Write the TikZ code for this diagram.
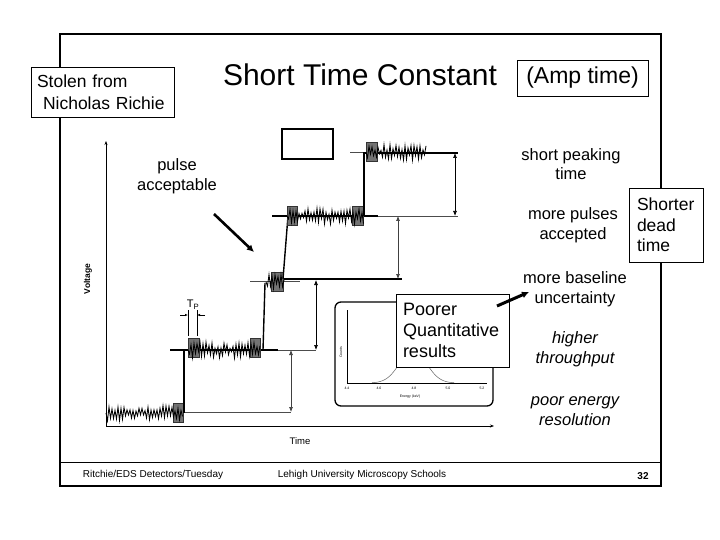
\documentclass[tikz,border=0pt]{standalone}
\usepackage{fontspec}
\setmainfont{Liberation Sans}
\usetikzlibrary{arrows.meta}
\newcommand{\noisy}[4]{%
  \pgfmathsetseed{#4}%
  \pgfmathtruncatemacro{\nsteps}{(#2-#1)/1.5}%
  \draw[noiseline] ({#1},{#3}) \foreach \k in {1,...,\nsteps} { -- ({#1+1.5*\k},{#3+(2*mod(\k,2)-1)*(1.5+6.5*rnd)}) };
}
\newcommand{\gbox}[3]{%
  \draw[greybox] ({#1},{#3-10}) rectangle ({#2},{#3+9});
}
\begin{document}
\begin{tikzpicture}[x=1pt,y=-1pt,
  every node/.style={inner sep=0pt},
  framestyle/.style={line width=1.5pt},
  labelbox/.style={draw, fill=white, line width=0.8pt, align=left},
  rtext/.style={align=center, font=\fontsize{16.5}{19.5}\selectfont},
  ritext/.style={align=center, font=\fontsize{16.5}{19.5}\selectfont\itshape},
  noiseline/.style={line width=0.85pt, line join=miter},
  greybox/.style={fill=black!55, draw=black!80, line width=0.6pt},
  levelthick/.style={line width=1.6pt},
  levelthin/.style={line width=0.6pt, black!70},
  riseline/.style={line width=1.4pt},
  dimarrow/.style={line width=0.7pt, {Latex[length=5pt,width=4pt]}-{Latex[length=5pt,width=4pt]}},
  bigarrow/.style={line width=2.6pt, -{Latex[length=7pt,width=7pt]}},
  footer/.style={font=\fontsize{10}{12}\selectfont},
  tiny/.style={font=\fontsize{3.5}{4}\selectfont}
]
\useasboundingbox (0,0) rectangle (720,540);
\fill[white] (0,0) rectangle (720,540);

% slide frame and footer
\draw[framestyle] (60,34) rectangle (661,486);
\coordinate (fl) at (60,462);
\coordinate (fr) at (661,462);
\draw[line width=0.9pt] (fl) -- (fr);
\node[footer] (f1) at (153,475) {Ritchie/EDS Detectors/Tuesday};
\node[footer] (f2) at (362,475) {Lehigh University Microscopy Schools};
\node[footer, font=\fontsize{10}{12}\selectfont\bfseries] (f3) at (643,476) {32};

% title and boxes
\node[font=\fontsize{30}{36}\selectfont] (title) at (360,75) {Short Time Constant};
\node[labelbox, text width=131pt, inner xsep=6pt, minimum height=50pt, font=\fontsize{17.5}{22}\selectfont] (stolen) at (102.5,92) {Stolen from\\\hspace*{6pt}Nicholas Richie};
\node[draw, fill=white, line width=0.8pt, minimum width=131pt, minimum height=36pt, font=\fontsize{23}{27}\selectfont] (amp) at (582.5,78) {(Amp time)};
\node[labelbox, text width=58pt, inner xsep=8pt, minimum height=74pt, font=\fontsize{17.5}{20.5}\selectfont] (dead) at (666,225) {Shorter\\dead\\time};

% right column
\node[rtext] (t1) at (571,164) {short peaking\\time};
\node[rtext] (t2) at (573,225) {more pulses\\accepted};
\node[rtext] (t3) at (575,289) {more baseline\\uncertainty};
\node[ritext] (t4) at (575,349) {higher\\throughput};
\node[ritext] (t5) at (575,411) {poor energy\\resolution};

% pulse acceptable
\node[rtext] (pa) at (177,176) {pulse\\acceptable};
\coordinate (pa1) at (214,214);
\coordinate (pa2) at (254,252);
\draw[bigarrow] (pa1) -- (pa2);

% empty rectangle
\draw[line width=1.3pt] (282,129) rectangle (333,159);

% axes
\coordinate (O) at (106,426);
\coordinate (ytop) at (106,141);
\coordinate (xend) at (494,426);
\draw[line width=0.9pt, -{Stealth[length=4pt,width=3pt]}] (O) -- (ytop);
\draw[line width=0.9pt, -{Stealth[length=4pt,width=3pt]}] (O) -- (xend);
\node[rotate=90, font=\fontsize{8.5}{10}\selectfont\bfseries] (vlab) at (88,279) {Voltage};
\node[font=\fontsize{9.5}{11}\selectfont] (tlab) at (300,441) {Time};

% level 0
\draw[levelthin] (183,412) -- (291,412);
\gbox{173}{183}{413}
\noisy{106}{183}{413}{11}
\draw[riseline] (184,413) -- (184,350);

% level 1
\draw[levelthick] (170,350) -- (278,350);
\draw[levelthin] (278,350) -- (316,350);
\gbox{188}{199}{348}
\gbox{250}{260}{348}
\noisy{188}{261}{350}{23}
\draw[riseline] (263,350) -- (265,283);

% level 2
\draw[levelthin] (250,281) -- (300,281);
\draw[levelthick] (283,279) -- (402,279);
\gbox{271}{283}{282}
\noisy{266}{284}{282}{37}
\draw[riseline] (283,279) -- (288,216);

% level 3
\draw[levelthick] (272,216) -- (378,216);
\draw[levelthin] (378,216) -- (458,216);
\gbox{287}{297}{216}
\gbox{352}{363}{216}
\noisy{287}{364}{216}{41}
\draw[riseline] (364,216) -- (364,153);

% level 4
\draw[levelthin] (350,152) -- (440,152);
\draw[levelthick] (363,153) -- (458,153);
\gbox{366}{377}{152}
\noisy{366}{427}{152}{53}

% dimension arrows
\coordinate (d1a) at (291,350); \coordinate (d1b) at (291,412);
\coordinate (d2a) at (316,280); \coordinate (d2b) at (316,350);
\coordinate (d3a) at (398,216); \coordinate (d3b) at (398,279);
\coordinate (d4a) at (455,153); \coordinate (d4b) at (455,216);
\draw[dimarrow, black!75] (d1a) -- (d1b);
\draw[dimarrow] (d2a) -- (d2b);
\draw[dimarrow, black!75] (d3a) -- (d3b);
\draw[dimarrow] (d4a) -- (d4b);

% Tp marker
\draw[line width=0.8pt] (188,310) -- (188,336);
\draw[line width=0.8pt] (197,310) -- (197,336);
\coordinate (tpl) at (180,315); \coordinate (tpr) at (205,315);
\draw[line width=0.6pt, -{Latex[length=3pt,width=2.5pt]}] (tpl) -- (188,315);
\draw[line width=0.6pt, -{Latex[length=3pt,width=2.5pt]}] (tpr) -- (197,315);
\node[font=\fontsize{11}{12}\selectfont] (tp) at (193,305) {T\textsubscript{P}};

% spectrum inset
\draw[line width=1.3pt, rounded corners=6pt] (335,302) rectangle (493,406);
\draw[line width=0.5pt] (347,310) -- (347,383) -- (487,383);
\foreach \tx/\tl in {347/4.4, 379/4.6, 414/4.8, 448/5.0, 482/5.2} {
  \node[tiny] at (\tx,388) {\tl};
}
\node[tiny] (elab) at (410,397) {Energy (keV)};
\node[tiny, rotate=90] (clab) at (341,352) {Counts};
\draw[black!60, line width=0.5pt, domain=372:454, samples=70] plot (\x, {383-33*exp(-((\x-413)^2)/350)});

% Poorer box
\node[labelbox, text width=99pt, inner xsep=7pt, minimum height=73pt, font=\fontsize{18}{21}\selectfont] (poor) at (452.5,330.5) {Poorer\\Quantitative\\results};
\coordinate (pq) at (529,292);
\draw[line width=3pt, -{Latex[length=7pt,width=7pt]}] (497,306) -- (pq);
\end{tikzpicture}
\end{document}
